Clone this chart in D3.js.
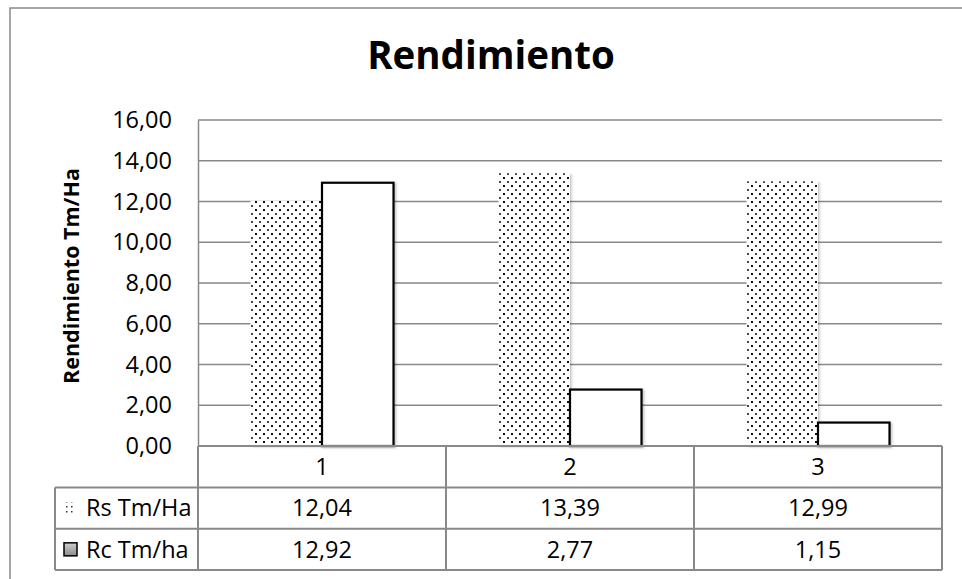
<!DOCTYPE html>
<html><head><meta charset="utf-8">
<script src="https://cdn.jsdelivr.net/npm/d3@7"></script>
<style>
html,body{margin:0;padding:0;background:#fff;}
svg{display:block;font-family:"Open Sans",sans-serif;}
</style></head>
<body>
<svg id="chart" width="962" height="579"></svg>
<script>
const categories = ["1", "2", "3"];
const seriesNames = ["Rs Tm/Ha", "Rc Tm/ha"];
const rsValues = [12.04, 13.39, 12.99];
const rcValues = [12.92, 2.77, 1.15];
const yTicks = [0, 2, 4, 6, 8, 10, 12, 14, 16];
const chartTitle = "Rendimiento";
const yAxisTitle = "Rendimiento Tm/Ha";

const svg = d3.select("#chart");
const fmt = v => d3.format(".2f")(v).replace(".", ",");
const gridColor = "#898989";
const seriesValues = [rsValues, rcValues];
const FS = 23.5;

const defs = svg.append("defs");
const pat = defs.append("pattern").attr("id","dots").attr("patternUnits","userSpaceOnUse")
  .attr("width",8).attr("height",8);
pat.append("rect").attr("width",8).attr("height",8).attr("fill","#fff");
pat.append("rect").attr("x",1).attr("y",1).attr("width",2).attr("height",2).attr("fill","#111").attr("shape-rendering","crispEdges");
pat.append("rect").attr("x",5).attr("y",5).attr("width",2).attr("height",2).attr("fill","#444").attr("shape-rendering","crispEdges");
const pat2 = defs.append("pattern").attr("id","dotsSmall").attr("patternUnits","userSpaceOnUse")
  .attr("width",5).attr("height",5);
pat2.append("rect").attr("width",5).attr("height",5).attr("fill","#fff");
pat2.append("rect").attr("x",1).attr("y",1).attr("width",1.5).attr("height",1.5).attr("fill","#333");
const grad = defs.append("linearGradient").attr("id","grayGrad").attr("x1",0).attr("y1",0).attr("x2",0).attr("y2",1);
grad.append("stop").attr("offset","0%").attr("stop-color","#d0d0d0");
grad.append("stop").attr("offset","100%").attr("stop-color","#8a8a8a");
const sh = defs.append("filter").attr("id","shadow").attr("x","-10%").attr("y","-10%").attr("width","130%").attr("height","130%");
sh.append("feDropShadow").attr("dx",1.5).attr("dy",1).attr("stdDeviation",1.2).attr("flood-color","#000").attr("flood-opacity",0.25);

// outer border
svg.append("rect").attr("x",10).attr("y",8).attr("width",1200).attr("height",1200)
  .attr("fill","#fff").attr("stroke",gridColor).attr("stroke-width",1.5);

const plotLeft = 198, plotRight = 942, plotTop = 120, plotBottom = 446;
const x0 = d3.scaleBand().domain(categories).range([plotLeft, plotRight]).padding(0);
const x1 = d3.scaleBand().domain(seriesNames).range([0, x0.bandwidth()]).paddingOuter(0.734).paddingInner(0);
const y = d3.scaleLinear().domain([0,16]).range([plotBottom, plotTop]);

// gridlines
svg.append("g").selectAll("line").data(yTicks.filter(t=>t>0)).join("line")
  .attr("x1",plotLeft).attr("x2",plotRight)
  .attr("y1",d=>y(d)).attr("y2",d=>y(d))
  .attr("stroke",gridColor).attr("stroke-width",1.5);

// y axis with labels
const yAxis = d3.axisLeft(y).tickValues(yTicks).tickFormat(fmt).tickSize(0).tickPadding(26);
const yg = svg.append("g").attr("transform",`translate(${plotLeft},0)`).call(yAxis);
yg.select(".domain").attr("stroke",gridColor).attr("stroke-width",1.5);
yg.selectAll("text").attr("font-size",FS).attr("font-family","Open Sans").attr("fill","#000");

// bars
const groups = svg.append("g").selectAll("g").data(categories).join("g")
  .attr("transform",d=>`translate(${x0(d)},0)`);
groups.selectAll("rect").data((d,i)=>seriesNames.map((s,j)=>({s, v: seriesValues[j][i], j})))
  .join("rect")
  .attr("x",d=>x1(d.s)).attr("width",x1.bandwidth())
  .attr("y",d=>y(d.v)).attr("height",d=>y(0)-y(d.v))
  .attr("fill",d=>d.j===0?"url(#dots)":"#fff")
  .attr("stroke",d=>d.j===0?"none":"#000")
  .attr("stroke-width",2.2)
  .attr("filter","url(#shadow)");

// data table
const rowTops = [446, 487.5, 528.7, 570];
const tableLeft = 55;
const tg = svg.append("g");
function line(x1_,y1_,x2_,y2_){ tg.append("line").attr("x1",x1_).attr("y1",y1_).attr("x2",x2_).attr("y2",y2_).attr("stroke",gridColor).attr("stroke-width",2); }
line(plotLeft, rowTops[0], plotRight, rowTops[0]);
line(tableLeft, rowTops[1], plotRight, rowTops[1]);
line(tableLeft, rowTops[2], plotRight, rowTops[2]);
line(tableLeft, rowTops[3], plotRight, rowTops[3]);
line(tableLeft, rowTops[1], tableLeft, rowTops[3]);
[plotLeft, ...categories.map(c=>x0(c)+x0.bandwidth())].forEach(xx=>line(xx, rowTops[0], xx, rowTops[3]));

// category labels
tg.selectAll("text.cat").data(categories).join("text").attr("class","cat")
  .attr("x",d=>x0(d)+x0.bandwidth()/2).attr("y",(rowTops[0]+rowTops[1])/2)
  .attr("dy","0.35em").attr("text-anchor","middle").attr("font-size",FS).text(d=>d);
// value cells
seriesNames.forEach((s,j)=>{
  const yy = (rowTops[j+1]+rowTops[j+2])/2;
  tg.selectAll(`text.v${j}`).data(categories).join("text").attr("class",`v${j}`)
    .attr("x",d=>x0(d)+x0.bandwidth()/2).attr("y",yy)
    .attr("dy","0.35em").attr("text-anchor","middle").attr("font-size",FS)
    .text((d,i)=>fmt(seriesValues[j][i]));
  tg.append("text").attr("x",86).attr("y",yy).attr("dy","0.35em").attr("font-size",FS).text(s);
});
// legend keys
const k1y = (rowTops[1]+rowTops[2])/2, k2y = (rowTops[2]+rowTops[3])/2;
tg.append("rect").attr("x",64).attr("y",k1y-6).attr("width",12).attr("height",12).attr("fill","url(#dotsSmall)");
tg.append("rect").attr("x",64).attr("y",k2y-6.5).attr("width",13).attr("height",13)
  .attr("fill","url(#grayGrad)").attr("stroke","#000").attr("stroke-width",1.5);

// titles
svg.append("text").attr("x",491).attr("y",69).attr("text-anchor","middle")
  .attr("font-weight","bold").attr("font-size",38.5).text(chartTitle);
svg.append("text").attr("transform",`translate(79,276) rotate(-90)`).attr("text-anchor","middle")
  .attr("font-weight","bold").attr("font-size",21.5).text(yAxisTitle);
</script>
</body></html>
